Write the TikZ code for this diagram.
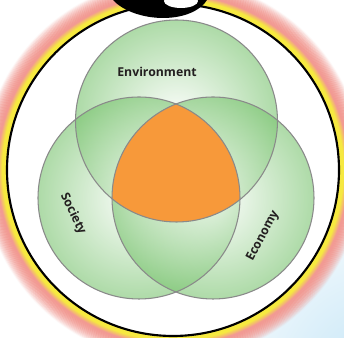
\documentclass[tikz,border=0pt]{standalone}
\usepackage{fontspec}
\setmainfont{Open Sans}
\definecolor{haloY}{HTML}{F6E940}
\definecolor{haloP}{HTML}{F29A93}
\definecolor{skyb}{HTML}{C4E5F6}
\definecolor{leafg}{HTML}{78C36E}
\definecolor{orng}{HTML}{F7993A}
\definecolor{txt}{HTML}{231F20}
\definecolor{edgeg}{HTML}{8A8A8A}
\tikzset{
  setcircle/.style={inner color=white, outer color=leafg, fill opacity=0.6},
  setedge/.style={draw=edgeg, line width=0.8},
  lbl/.style={font=\bfseries\fontsize{9.2}{11}\selectfont, text=txt, inner sep=0pt}
}
\begin{document}
\begin{tikzpicture}[x=0.75pt,y=0.75pt]
\useasboundingbox (0,0) rectangle (344,338);
\clip (0,0) rectangle (344,338);
\fill[white] (0,0) rectangle (344,338);
\coordinate (C) at (173,168);
\coordinate (E) at (176.5,217);
\coordinate (S) at (139,140);
\coordinate (K) at (213,140);
% sky
\shade[inner color=skyb, outer color=white] (380,-40) circle[radius=200];
\draw[gray!20, line width=1.6] (316,216) -- (344,216);
% halo
\foreach \i [evaluate=\i as \p using {max(0,min(100,100-(\i-4)*20))},
             evaluate=\i as \o using {min(1,max(0,1-(\i-9)/15))}] in {0,...,24}
  {\draw[line width=1.3, color=haloY!\p!haloP, draw opacity=\o] (C) circle[radius=167+\i];}
\fill[white] (C) circle[radius=166];
% green circles
\foreach \c in {E,S,K} {\shade[setcircle] (\c) circle[radius=101];}
\begin{scope}
  \clip (E) circle[radius=101];
  \clip (S) circle[radius=101];
  \fill[orng] (K) circle[radius=101];
\end{scope}
\foreach \c in {E,S,K} {\draw[setedge] (\c) circle[radius=101];}
\draw[black, line width=1.6] (C) circle[radius=166];
% labels
\node[lbl] (env) at (157,266) {Environment};
\node[lbl, rotate=-64] (soc) at (73,124) {Society};
\node[lbl, rotate=62] (eco) at (263,102) {Economy};
% swirl
\fill[black] (113,338) .. controls (124,326) and (145,320) .. (163,320)
  .. controls (185,320) and (201,328) .. (207,338) -- cycle;
\fill[white] (181,337) ellipse[x radius=17, y radius=7];
\end{tikzpicture}
\end{document}
